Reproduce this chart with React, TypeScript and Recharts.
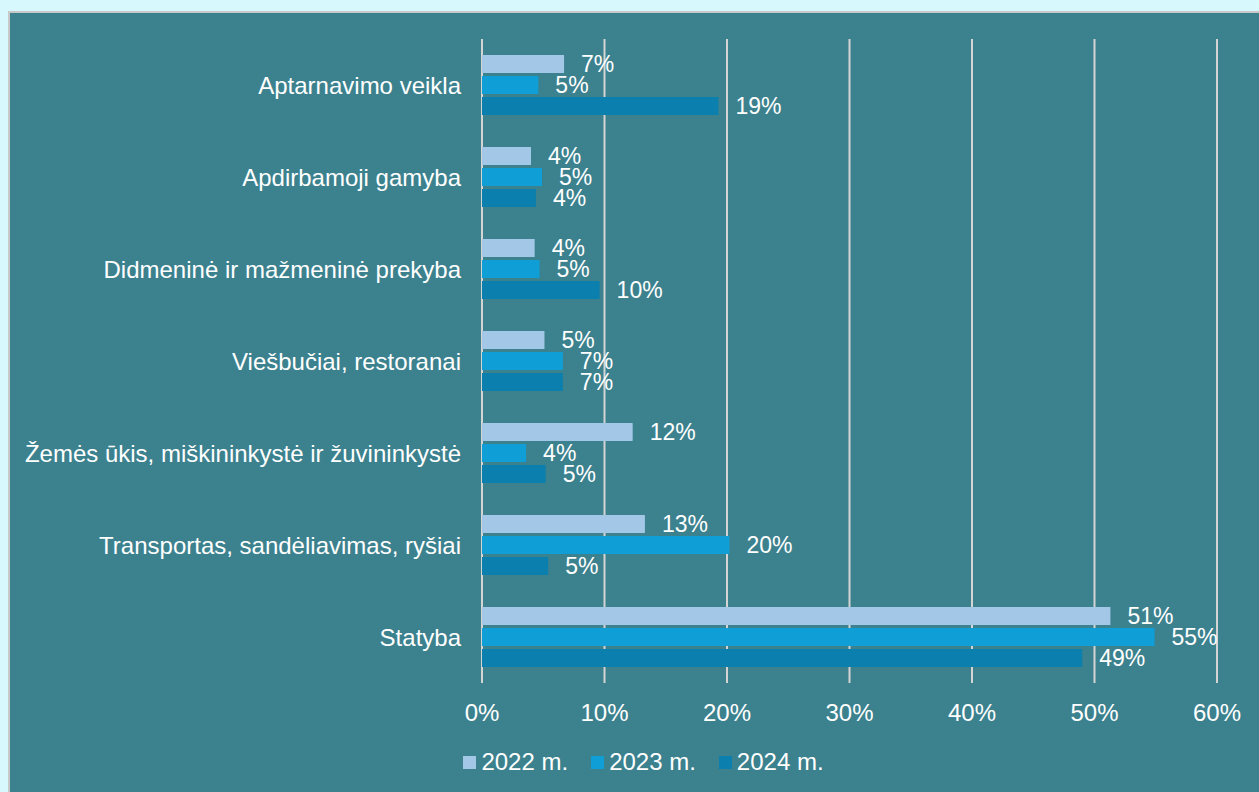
import { BarChart, Bar, XAxis, YAxis, CartesianGrid, Legend, LabelList } from 'recharts'

const categories = [
  'Aptarnavimo veikla',
  'Apdirbamoji gamyba',
  'Didmeninė ir mažmeninė prekyba',
  'Viešbučiai, restoranai',
  'Žemės ūkis, miškininkystė ir žuvininkystė',
  'Transportas, sandėliavimas, ryšiai',
  'Statyba',
]

const y2022 = [6.7, 4.0, 4.3, 5.1, 12.3, 13.3, 51.3]
const y2023 = [4.6, 4.9, 4.7, 6.6, 3.6, 20.2, 54.9]
const y2024 = [19.3, 4.4, 9.6, 6.6, 5.2, 5.4, 49.0]

const xTicks = [0, 10, 20, 30, 40, 50, 60]

const series = [
  { key: 'y2022', name: '2022 m.', color: '#a3c7e7' },
  { key: 'y2023', name: '2023 m.', color: '#109ed6' },
  { key: 'y2024', name: '2024 m.', color: '#0b7fad' },
]

const data = categories.map((c, i) => ({
  category: c,
  y2022: y2022[i],
  y2023: y2023[i],
  y2024: y2024[i],
}))

const font = '"Liberation Sans", Arial, sans-serif'

function LegendContent({ payload }: any) {
  return (
    <div
      style={{
        display: 'flex',
        justifyContent: 'center',
        height: 28,
        alignItems: 'center',
        fontFamily: font,
        fontSize: 24,
        color: '#fff',
        gap: 23,
        paddingLeft: 60,
      }}
    >
      {(payload || []).map((p: any) => (
        <span key={p.value} style={{ display: 'flex', alignItems: 'center' }}>
          <span style={{ width: 13, height: 13, background: p.color, marginRight: 5, display: 'inline-block' }} />
          {p.value}
        </span>
      ))}
    </div>
  )
}

export default function App() {
  return (
    <>
      <style>{`body{margin:0;background:#d7f9fd;overflow:hidden}`}</style>
      <div
        style={{
          position: 'absolute',
          left: 8,
          top: 11,
          width: 1262,
          height: 790,
          background: '#3c818e',
          borderLeft: '2px solid #c8c8c8',
          borderTop: '2px solid #c8c8c8',
        }}
      >
        <BarChart
          width={1249}
          height={779}
          data={data}
          layout="vertical"
          barSize={18}
          barGap={3}
          margin={{ top: 26, right: 42, left: 0, bottom: 16 }}
        >
          <CartesianGrid horizontal={false} stroke="#d4d4d4" strokeWidth={2} />
          <XAxis
            type="number"
            domain={[0, 60]}
            ticks={xTicks}
            tickFormatter={(v: number) => `${v}%`}
            axisLine={false}
            tickLine={false}
            tickSize={0}
            tickMargin={21}
            height={65}
            tick={{ fill: '#ffffff', fontSize: 24, fontFamily: font }}
          />
          <YAxis
            type="category"
            dataKey="category"
            width={472}
            axisLine={false}
            tickLine={false}
            tickSize={0}
            tickMargin={21}
            interval={0}
            tick={{ fill: '#ffffff', fontSize: 24, fontFamily: font }}
          />
          <Legend verticalAlign="bottom" content={<LegendContent />} />
          {series.map((s) => (
            <Bar key={s.key} dataKey={s.key} name={s.name} fill={s.color} isAnimationActive={false}>
              <LabelList
                dataKey={s.key}
                position="right"
                offset={17}
                formatter={(v: any) => `${Math.round(Number(v))}%`}
                style={{ fill: '#ffffff', fontSize: 23, fontFamily: font }}
              />
            </Bar>
          ))}
        </BarChart>
      </div>
    </>
  )
}
